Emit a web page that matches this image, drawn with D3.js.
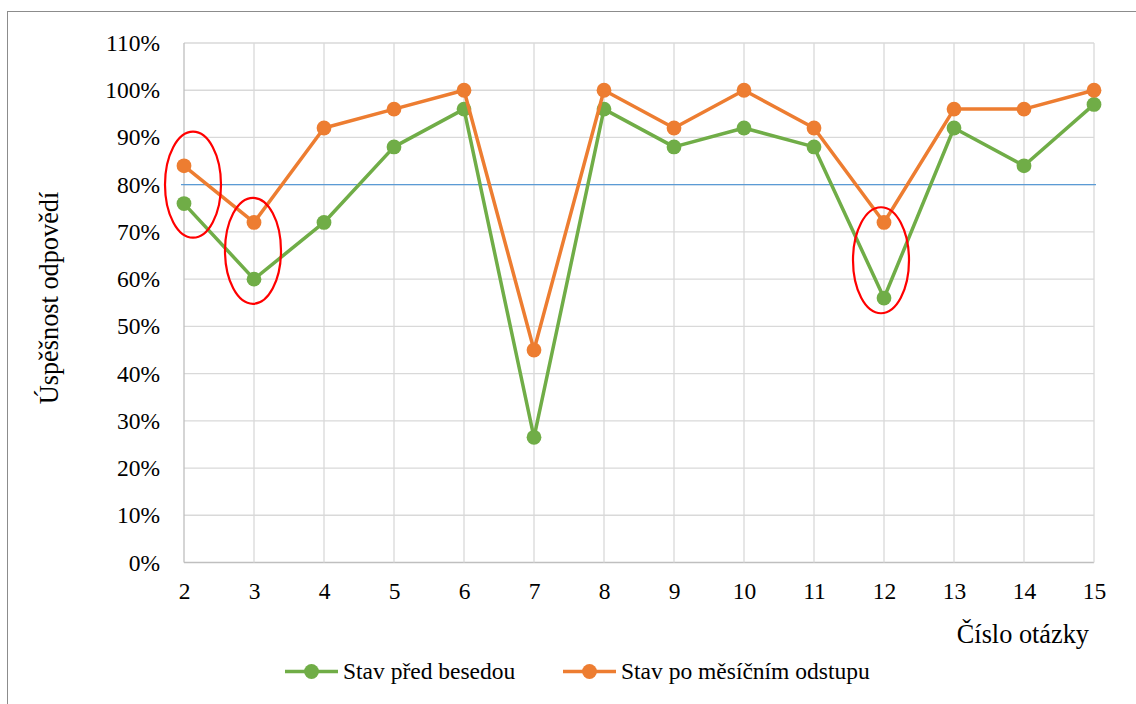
<!DOCTYPE html>
<html><head><meta charset="utf-8">
<script src="https://cdn.jsdelivr.net/npm/d3@7"></script>
<style>body{margin:0;background:#fff}svg{display:block}svg text{font-family:'Liberation Serif','Times New Roman',Tinos,'DejaVu Serif',serif !important;fill:#000}</style>
</head><body><svg id="c" width="1136" height="704"></svg>
<script>
const questions = [2,3,4,5,6,7,8,9,10,11,12,13,14,15];
const before = [76,60,72,88,96,26.5,96,88,92,88,56,92,84,97];
const after = [84,72,92,96,100,45,100,92,100,92,72,96,96,100];
const yTicks = [0,10,20,30,40,50,60,70,80,90,100,110];
const threshold = 80;
const highlighted = [[2,80],[3,66],[12,64]];
const seriesNames = ["Stav před besedou","Stav po měsíčním odstupu"];
const yTitle = "Úspěšnost odpovědí";
const xTitle = "Číslo otázky";

const svg = d3.select("#c");
const x = d3.scaleLinear().domain([2,15]).range([184,1094]);
const y = d3.scaleLinear().domain([0,110]).range([562.5,43]);
const green = "#70ad47", orange = "#ed7d31";
const FS = 23.5, LFS = 23.5, TFS = 26.3;

// outer frame
svg.append("rect").attr("x",7.5).attr("y",11.5).attr("width",1140).attr("height",710)
  .attr("fill","none").attr("stroke","#8c8c8c").attr("stroke-width",1);

// grid
svg.append("g").selectAll("line").data(yTicks).join("line")
  .attr("x1",x(2)).attr("x2",x(15)).attr("y1",d=>y(d)).attr("y2",d=>y(d))
  .attr("stroke",d=>d===0?"#bfbfbf":"#d9d9d9").attr("stroke-width",1.3);
svg.append("g").selectAll("line").data(questions).join("line")
  .attr("x1",d=>x(d)).attr("x2",d=>x(d)).attr("y1",y(110)).attr("y2",y(0))
  .attr("stroke",d=>d===2?"#bfbfbf":"#d9d9d9").attr("stroke-width",1.3);

// axes labels
const yAxis = d3.axisLeft(y).tickValues(yTicks).tickFormat(d=>d+"%").tickSize(0).tickPadding(24);
const ga = svg.append("g").attr("transform",`translate(${x(2)},0)`).call(yAxis);
ga.attr("font-family",null).attr("font-size",FS);
ga.select(".domain").remove();
ga.selectAll("text").attr("fill","#000");
const xAxis = d3.axisBottom(x).tickValues(questions).tickFormat(d3.format("d")).tickSize(0).tickPadding(20);
const gb = svg.append("g").attr("transform",`translate(0,${y(0)})`).call(xAxis);
gb.attr("font-family",null).attr("font-size",FS);
gb.select(".domain").remove();
gb.selectAll("text").attr("fill","#000");

// threshold
svg.append("line").attr("x1",x(2)-3).attr("x2",x(15)+2).attr("y1",y(threshold)).attr("y2",y(threshold))
  .attr("stroke","#5b9bd5").attr("stroke-width",1.3);

// series
const line = d3.line().x((d,i)=>x(questions[i])).y(d=>y(d));
[[before,green],[after,orange]].forEach(([vals,col])=>{
  svg.append("path").datum(vals).attr("d",line).attr("fill","none").attr("stroke",col).attr("stroke-width",3.5).attr("stroke-linejoin","round");
  svg.append("g").selectAll("circle").data(vals).join("circle")
    .attr("cx",(d,i)=>x(questions[i])).attr("cy",d=>y(d)).attr("r",7.4).attr("fill",col);
});

// highlight ellipses
const offs = [9,-1,-3];
svg.append("g").selectAll("ellipse").data(highlighted).join("ellipse")
  .attr("cx",(d,i)=>x(d[0])+offs[i]).attr("cy",d=>y(d[1])).attr("rx",28).attr("ry",53)
  .attr("fill","none").attr("stroke","#ff0000").attr("stroke-width",2.2);

// titles
svg.append("text").attr("transform","translate(58,298) rotate(-90)").attr("text-anchor","middle")
  .attr("font-size",TFS).text(yTitle);
svg.append("text").attr("x",1089).attr("y",643).attr("text-anchor","end").attr("font-size",TFS).text(xTitle);

// legend
const leg = [[285,green,seriesNames[0]],[563,orange,seriesNames[1]]];
leg.forEach(([lx,col,name])=>{
  const g = svg.append("g");
  g.append("line").attr("x1",lx).attr("x2",lx+53).attr("y1",671.5).attr("y2",671.5).attr("stroke",col).attr("stroke-width",3.5);
  g.append("circle").attr("cx",lx+26.5).attr("cy",671.5).attr("r",7.4).attr("fill",col);
  g.append("text").attr("x",lx+58).attr("y",679).attr("font-size",LFS).text(name);
});
</script></body></html>
